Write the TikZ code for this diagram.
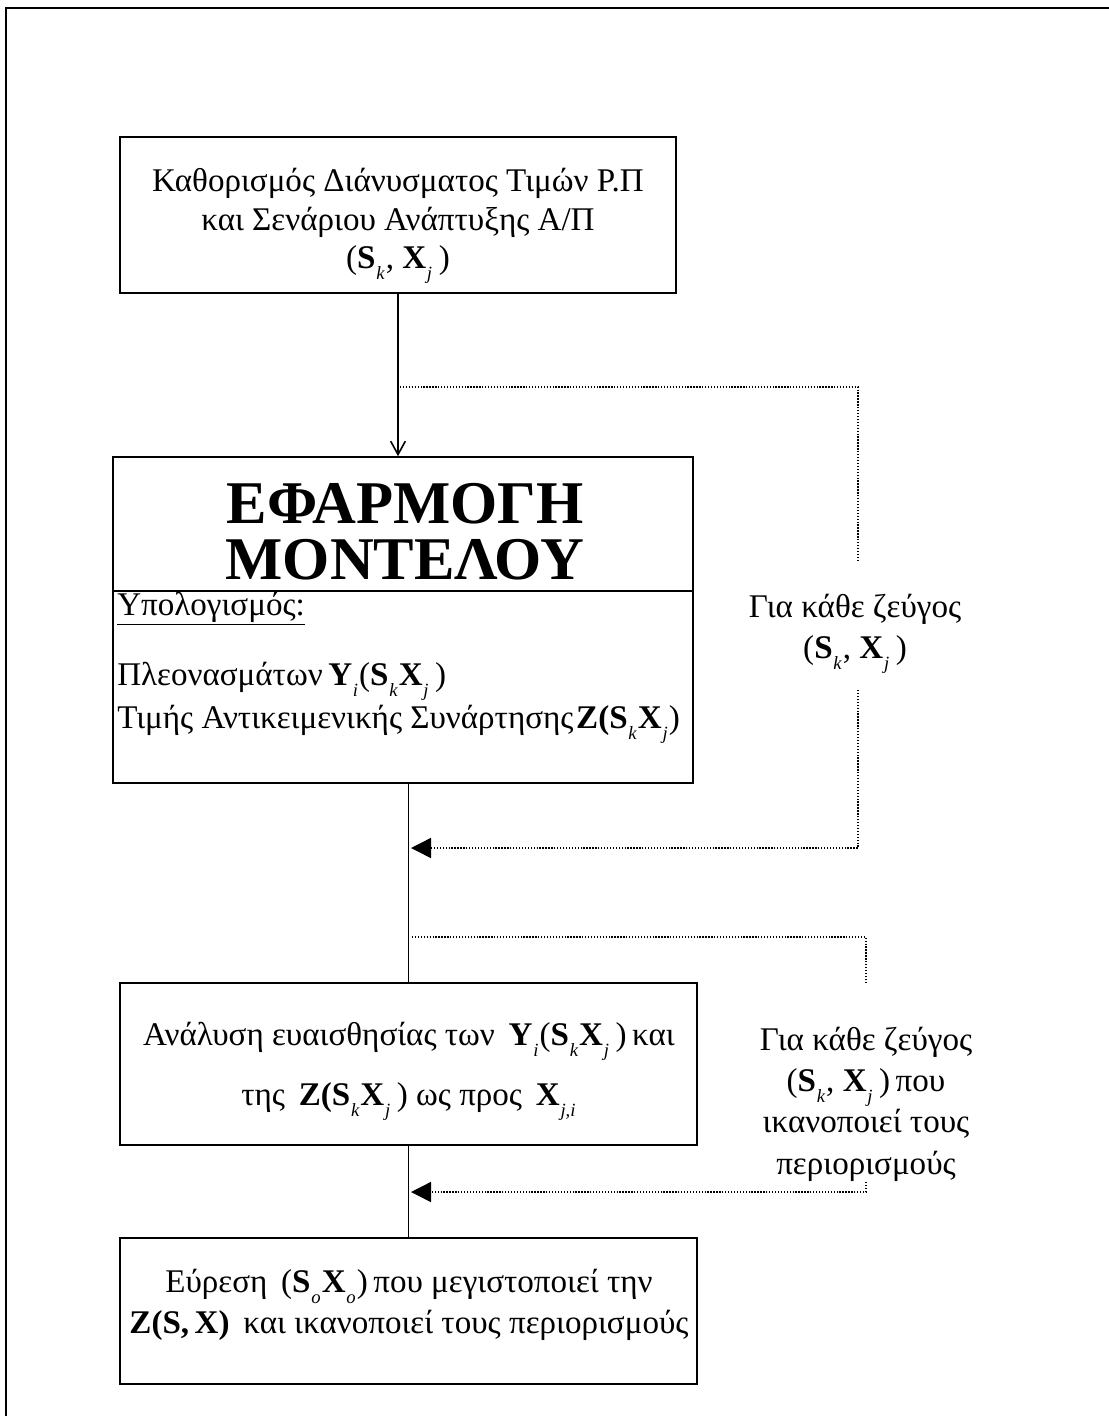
\documentclass[tikz,border=0pt]{standalone}
\usepackage{fontspec}
\setmainfont{Liberation Serif}
\usetikzlibrary{arrows.meta,fit}

% bold vector letters with italic lowered indices
\newcommand\sbi[1]{\kern0.6pt\raisebox{-0.34em}{\fontsize{14}{14}\selectfont\itshape #1}\kern0.8pt}
\newcommand\bS{\textbf{S}}
\newcommand\bX{\textbf{X}}
\newcommand\bY{\textbf{Y}}

\begin{document}
\begin{tikzpicture}[x=0.75pt,y=-0.75pt,
  txt/.style={font=\fontsize{24.8}{31}\selectfont, inner sep=0pt},
  boxed/.style={draw, line width=1.2pt, inner sep=0pt},
  flow/.style={line width=1.2pt},
  loopline/.style={line width=1.1pt, dash pattern=on 1pt off 1.2pt},
  tri/.style={-{Triangle[length=15pt,width=15pt]}},
  barb/.style={-{Straight Barb[length=10pt,width=11pt,line width=1.2pt]}}
]
\useasboundingbox (0,0) rectangle (1109,1416);

% page frame
\draw[line width=1.4pt] (6,1416) |- (1109,8);

% boxes
\node[boxed, fit={(120,137) (676,293)}] (b1) {};
\node[boxed, fit={(113,457) (693,591)}] (b2) {};
\node[boxed, fit={(113,591) (693,783)}] (b2b) {};
\node[boxed, fit={(120,983) (697,1145)}] (b3) {};
\node[boxed, fit={(120,1238) (697,1384)}] (b4) {};

% box texts
\node[txt, align=center, font=\fontsize{24.8}{28.8}\selectfont] (t1) at (398,226)
  {Καθορισμός Διάνυσματος Τιμών Ρ.Π\\και Σενάριου Ανάπτυξης Α/Π\\(\bS\sbi{k}, \bX\sbi{j}\,)};
\node[txt, align=center, font=\fontsize{45.5}{42}\selectfont\bfseries] (t2) at (405,532)
  {ΕΦΑΡΜΟΓΗ\\ΜΟΝΤΕΛΟΥ};
\node[txt, anchor=west] (t2a) at (117,609) {\underline{Υπολογισμός:}};
\node[txt, anchor=west] (t2b) at (117,681) {Πλεονασμάτων\,\bY\sbi{i}(\bS\sbi{k}\bX\sbi{j}\,)};
\node[txt, anchor=west] (t2c) at (117,724)
  {Τιμής Αντικειμενικής Συνάρτησης\kern2pt\textbf{Z(}\bS\sbi{k}\bX\sbi{j})};
\node[txt, align=center] (t3) at (409,1071)
  {Ανάλυση ευαισθησίας των \,\bY\sbi{i}(\bS\sbi{k}\bX\sbi{j}\,)\,και\\[14pt]
   της \,\textbf{Z(}\bS\sbi{k}\bX\sbi{j}\,) ως προς \,\bX\sbi{j,i}};
\node[txt, align=center] (t4) at (409,1305)
  {Εύρεση \,(\bS\sbi{o}\bX\sbi{o})\,που μεγιστοποιεί την\\
   \textbf{Z(S,\,X)} \,και ικανοποιεί τους περιορισμούς};

% loop labels
\node[txt, align=center] (g1) at (855,634) {Για κάθε ζεύγος\\(\bS\sbi{k}, \bX\sbi{j}\,)};
\node[txt, align=center] (g2) at (866,1104)
  {Για κάθε ζεύγος\\(\bS\sbi{k}, \bX\sbi{j}\,)\,που\\ικανοποιεί τους\\περιορισμούς};

% main flow
\draw[flow, barb] (b1.south) -- (b1.south |- b2.north);
\draw[flow] (b2b.south -| b3.north) -- (b3.north);
\draw[flow] (b3.south) -- (b4.north);

% first loop
\coordinate (s1) at (400,387);
\coordinate (c1) at (858,387);
\coordinate (m1) at (858,560);
\coordinate (n1) at (858,690);
\coordinate (d1) at (858,848);
\coordinate (e1) at (411,848);
\draw[loopline] (s1) -- (c1) -- (m1);
\draw[loopline, tri] (n1) -- (d1) -- (e1);

% second loop
\coordinate (s2) at (412,937);
\coordinate (c2) at (866,937);
\coordinate (m2) at (866,983);
\coordinate (n2) at (866,1182);
\coordinate (d2) at (866,1192);
\coordinate (e2) at (411,1192);
\draw[loopline] (s2) -- (c2) -- (m2);
\draw[loopline, tri] (n2) -- (d2) -- (e2);
\end{tikzpicture}
\end{document}
